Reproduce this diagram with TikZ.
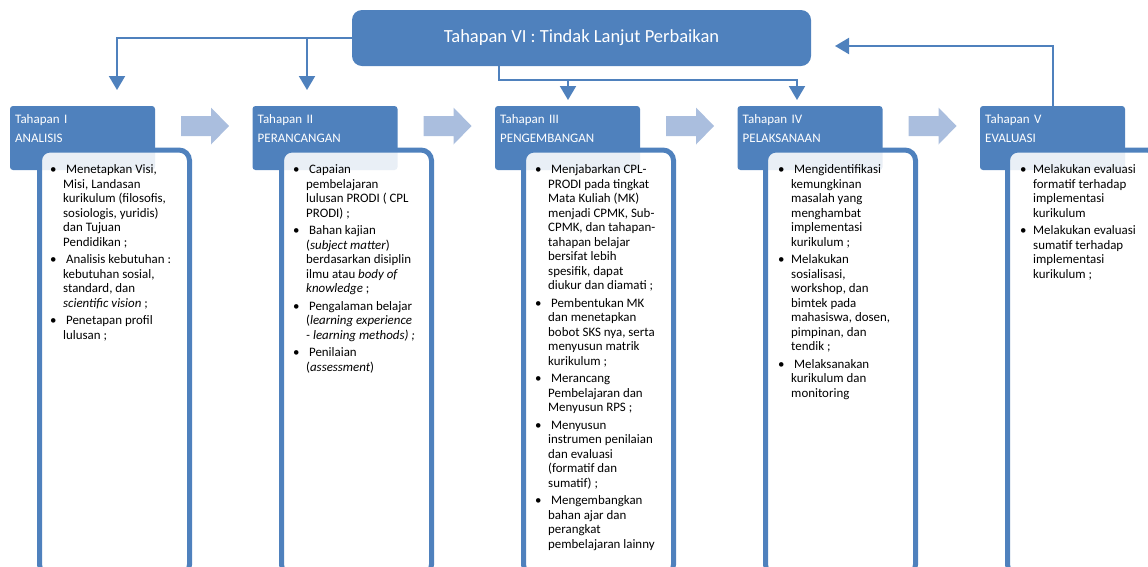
\documentclass[tikz,border=0pt]{standalone}
\usepackage{fontspec}
\setmainfont{Carlito}
\usetikzlibrary{arrows.meta}

\definecolor{stageblue}{RGB}{79,129,189}
\definecolor{chevblue}{RGB}{170,190,222}
\newcommand{\bu}{\textbullet&}
\newenvironment{bullets}{\begin{tabular}[t]{@{}p{13pt}@{}l@{}}}{\end{tabular}}

\begin{document}
\begin{tikzpicture}[x=1pt,y=-1pt,
	stage/.style={fill=stageblue, rounded corners=3pt, minimum width=145pt, minimum height=64pt, inner sep=0pt},
	stagetext/.style={anchor=base west, text width=135pt, align=left, inner sep=0pt, text=white, font=\fontsize{13}{19}\selectfont},
	panel/.style={draw=stageblue, line width=5pt, fill=white, fill opacity=0.88, rounded corners=10.5pt, minimum width=150pt, minimum height=425pt, inner sep=0pt},
	items/.style={anchor=base west, inner sep=0pt, text=black, font=\fontsize{12.9}{14.5}\selectfont},
	link/.style={draw=stageblue, line width=2pt, -{Triangle[width=16pt,length=14pt]}}]
		\useasboundingbox (0,0) rectangle (1148,566);
		\clip (0,0) rectangle (1148,566);

		\draw (581.5,38) node[fill=stageblue, rounded corners=10pt, minimum width=459pt, minimum height=56pt, text=white, font=\fontsize{18.5}{22}\selectfont] (top) {Tahapan VI : Tindak Lanjut Perbaikan};

		\coordinate (a1) at (117,90);
		\coordinate (a2) at (307,90);
		\coordinate (k) at (499,80);
		\coordinate (a3) at (568,100);
		\coordinate (a4) at (797,100);
		\coordinate (a5) at (835,46);

		\draw (82.5,138) node[stage] (h1) {};
		\draw (325,138) node[stage] (h2) {};
		\draw (567.5,138) node[stage] (h3) {};
		\draw (810,138) node[stage] (h4) {};
		\draw (1052.5,138) node[stage] (h5) {};

		\draw [link] (top.west) -| (a1);
		\draw [link] (top.west -| a2) -- (a2);
		\draw [link] (top.south -| k) -- (k) -| (a4);
		\draw [link] (k -| a3) -- (a3);
		\draw [link] (h5.north) |- (a5);

		\foreach \x in {181,423.5,666,908.5}
			\fill[chevblue] (\x,116) -- ++(30,0) -- ++(0,-8.5) -- ++(18,18.5) -- ++(-18,18.5) -- ++(0,-8.5) -- ++(-30,0) -- cycle;

		\draw (15,123) node[stagetext] (s1) {Tahapan I\\ANALISIS};
		\draw (257.5,123) node[stagetext] (s2) {Tahapan II\\PERANCANGAN};
		\draw (500,123) node[stagetext] (s3) {Tahapan III\\PENGEMBANGAN};
		\draw (742.5,123) node[stagetext] (s4) {Tahapan IV\\PELAKSANAAN};
		\draw (985,123) node[stagetext] (s5) {Tahapan V\\EVALUASI};

		\draw (114.5,362.5) node[panel] (c1) {};
		\draw (356.5,362.5) node[panel] (c2) {};
		\draw (598.5,362.5) node[panel] (c3) {};
		\draw (840.5,362.5) node[panel] (c4) {};
		\draw (1082.5,362.5) node[panel] (c5) {};

		\draw (50,173.5) node[items] (t1) {\begin{bullets}
			\bu\ Menetapkan Visi,\\ & Misi, Landasan\\ & kurikulum (filosofis,\\ & sosiologis, yuridis)\\ & dan Tujuan\\ & Pendidikan ;\\[3pt]
			\bu\ Analisis kebutuhan :\\ & kebutuhan sosial,\\ & standard, dan\\ & \textit{scientific vision} ;\\[3pt]
			\bu\ Penetapan profil\\ & lulusan ;
		\end{bullets}};
		\draw (293,173.5) node[items] (t2) {\begin{bullets}
			\bu\ Capaian\\ & pembelajaran\\ & lulusan PRODI ( CPL\\ & PRODI) ;\\[3pt]
			\bu\ Bahan kajian\\ & (\textit{subject matter})\\ & berdasarkan disiplin\\ & ilmu atau \textit{body of}\\ & \textit{knowledge} ;\\[3pt]
			\bu\ Pengalaman belajar\\ & (\textit{learning experience}\\ & \textit{- learning methods) ;}\\[3pt]
			\bu\ Penilaian\\ & (\textit{assessment})
		\end{bullets}};
		\draw (535,173.5) node[items] (t3) {\begin{bullets}
			\bu\ Menjabarkan CPL-\\ & PRODI pada tingkat\\ & Mata Kuliah (MK)\\ & menjadi CPMK, Sub-\\ & CPMK, dan tahapan-\\ & tahapan belajar\\ & bersifat lebih\\ & spesifik, dapat\\ & diukur dan diamati ;\\[3pt]
			\bu\ Pembentukan MK\\ & dan menetapkan\\ & bobot SKS nya, serta\\ & menyusun matrik\\ & kurikulum ;\\[3pt]
			\bu\ Merancang\\ & Pembelajaran dan\\ & Menyusun RPS ;\\[3pt]
			\bu\ Menyusun\\ & instrumen penilaian\\ & dan evaluasi\\ & (formatif dan\\ & sumatif) ;\\[3pt]
			\bu\ Mengembangkan\\ & bahan ajar dan\\ & perangkat\\ & pembelajaran lainny
		\end{bullets}};
		\draw (778,173.5) node[items] (t4) {\begin{bullets}
			\bu\ Mengidentifikasi\\ & kemungkinan\\ & masalah yang\\ & menghambat\\ & implementasi\\ & kurikulum ;\\[3pt]
			\bu Melakukan\\ & sosialisasi,\\ & workshop, dan\\ & bimtek pada\\ & mahasiswa, dosen,\\ & pimpinan, dan\\ & tendik ;\\[3pt]
			\bu\ Melaksanakan\\ & kurikulum dan\\ & monitoring
		\end{bullets}};
		\draw (1020,173.5) node[items] (t5) {\begin{bullets}
			\bu Melakukan evaluasi\\ & formatif terhadap\\ & implementasi\\ & kurikulum\\[3pt]
			\bu Melakukan evaluasi\\ & sumatif terhadap\\ & implementasi\\ & kurikulum ;
		\end{bullets}};
	\end{tikzpicture}
\end{document}
